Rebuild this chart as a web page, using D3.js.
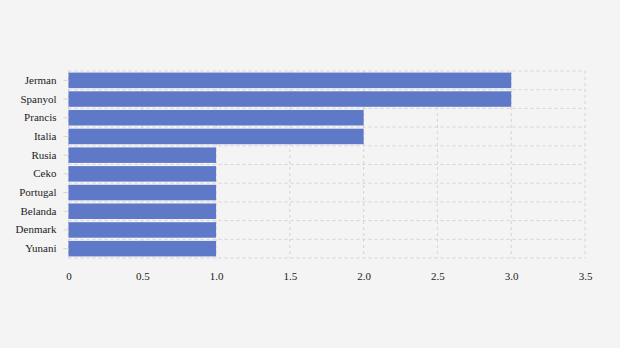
<!DOCTYPE html>
<html><head><meta charset="utf-8">
<script src="https://cdn.jsdelivr.net/npm/d3@7"></script>
<style>body{margin:0;background:#f4f4f4;}svg{display:block;}</style>
</head><body>
<svg id="c" width="620" height="348"></svg>
<script>
const categories = ["Jerman","Spanyol","Prancis","Italia","Rusia","Ceko","Portugal","Belanda","Denmark","Yunani"];
const values = [3,3,2,2,1,1,1,1,1,1];
const xTicks = [0,0.5,1,1.5,2,2.5,3,3.5];
const xTickLabels = ["0","0.5","1.0","1.5","2.0","2.5","3.0","3.5"];

const svg = d3.select("#c");
const W = 620, H = 348;
svg.append("rect").attr("width",W).attr("height",H).attr("fill","#f4f4f4");
const m = {left:68.5, right:35, top:71, bottom:90};
const x = d3.scaleLinear().domain([0,3.5]).range([m.left, W - m.right]);
const y = d3.scaleBand().domain(categories).range([m.top, H - m.bottom]).paddingInner(0.17).paddingOuter(0.085);
const font = "'Liberation Serif', 'Times New Roman', serif";

const grid = svg.append("g");
// vertical gridlines
grid.selectAll("line.v").data(xTicks).join("line")
  .attr("x1", d=>x(d)).attr("x2", d=>x(d))
  .attr("y1", m.top).attr("y2", H - m.bottom)
  .attr("stroke","#d4d4d4").attr("stroke-dasharray","3,3");
// horizontal gridlines at band boundaries
const step = y.step();
const bounds = d3.range(categories.length+1).map(i => m.top + i*(H - m.bottom - m.top)/categories.length);
grid.selectAll("line.h").data(bounds).join("line")
  .attr("x1", m.left).attr("x2", x(3.5))
  .attr("y1", d=>d).attr("y2", d=>d)
  .attr("stroke","#d4d4d4").attr("stroke-dasharray","3,3");

svg.append("g").selectAll("rect").data(categories).join("rect")
  .attr("x", x(0))
  .attr("y", d=>y(d))
  .attr("width", (d,i)=>x(values[i]) - x(0))
  .attr("height", y.bandwidth())
  .attr("fill","#5f79c9");

// y axis
const ya = svg.append("g").attr("transform",`translate(${m.left},0)`)
  .call(d3.axisLeft(y).tickSize(5).tickPadding(7));
ya.select(".domain").remove();
ya.selectAll(".tick line").attr("stroke","#d4d4d4");
ya.selectAll(".tick text").attr("font-family",font).attr("font-size",11).attr("fill","#222");

// x axis
const xa = svg.append("g").attr("transform",`translate(0,${H - m.bottom})`)
  .call(d3.axisBottom(x).tickValues(xTicks).tickFormat((d,i)=>xTickLabels[i]).tickSize(0).tickPadding(14));
xa.select(".domain").remove();
xa.selectAll(".tick text").attr("font-family",font).attr("font-size",11).attr("fill","#222");
</script>
</body></html>
